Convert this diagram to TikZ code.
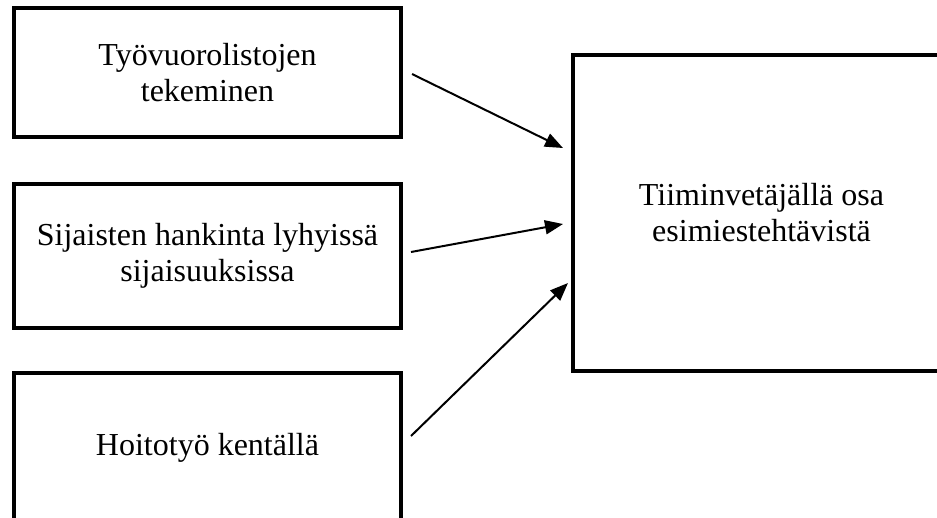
\documentclass[tikz,border=0pt]{standalone}
\usepackage{fontspec}
\setmainfont{Liberation Serif}
\usetikzlibrary{arrows.meta}
\begin{document}
\begin{tikzpicture}[x=1pt,y=-1pt,
  box/.style={draw=black,line width=4pt,inner sep=0pt,align=center,
    font=\fontsize{32}{36}\selectfont},
  conn/.style={draw=black,line width=2pt,-{Triangle[length=18pt,width=14pt]}}]
\useasboundingbox (0,0) rectangle (937,517);
\clip (0,0) rectangle (937,517);
\fill[white] (0,0) rectangle (937,517);
\node[box,minimum width=387pt,minimum height=129pt] (b1) at (207.5,72.5) {Työvuorolistojen\\tekeminen};
\node[box,minimum width=387pt,minimum height=144pt] (b2) at (207.5,256) {Sijaisten hankinta lyhyissä\\sijaisuuksissa};
\node[box,minimum width=387pt,minimum height=149pt] (b3) at (207.5,447.5) {Hoitotyö kentällä};
\node[box,minimum width=377pt,minimum height=316pt] (r) at (761.5,213) {Tiiminvetäjällä osa\\esimiestehtävistä};
\coordinate (s1) at (412,74);
\coordinate (e1) at (563,148);
\coordinate (s2) at (411,252);
\coordinate (e2) at (563,224);
\coordinate (s3) at (411,436);
\coordinate (e3) at (568,283);
\draw[conn] (s1) -- (e1);
\draw[conn] (s2) -- (e2);
\draw[conn] (s3) -- (e3);
\end{tikzpicture}
\end{document}
